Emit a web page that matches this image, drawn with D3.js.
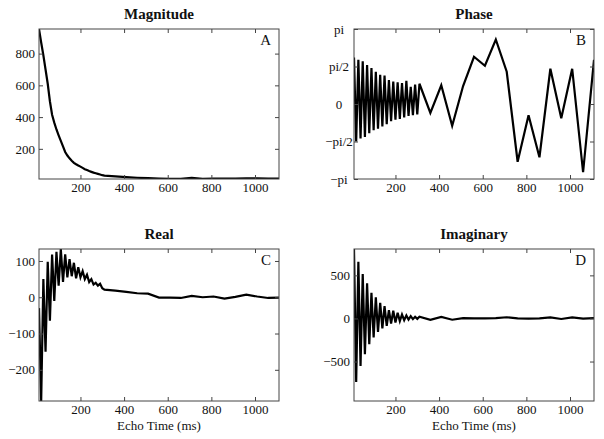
<!DOCTYPE html>
<html>
<meta charset='utf-8'>
<head>
<script src='https://d3js.org/d3.v7.min.js'></script>
<style>
body { margin: 0; background: #fff; }
text { font-family: 'Liberation Serif', 'DejaVu Serif', serif; fill: #111; }
.tick line { stroke: #444; }
.domain { display: none; }
</style>
</head>
<body>
<div id='chart'></div>
<script>
// echo times (ms): dense 10 ms sampling, then 50 ms
var echoTimes = [10,20,30,40,50,60,70,80,90,100,110,120,130,140,150,160,170,180,190,200,
    210,220,230,240,250,260,270,280,290,300,310,
    360,410,460,510,560,610,660,710,760,810,860,910,960,1010,1060,1110]

var magnitude = [955,870,790,700,610,500,415,365,322,285,250,215,180,158,140,125,112,103,95,88,
    80,72,66,60,55,50,46,42,38,34,31,
    27,22,18,15,13,11,11,17,11,12,12,13,14,14,12,12]

// phase in units of pi
var phase = [0.62,-0.50,0.59,-0.46,0.57,-0.44,0.52,-0.39,0.48,-0.35,0.43,-0.33,0.39,-0.30,0.38,-0.27,
    0.32,-0.23,0.30,-0.21,0.29,-0.20,0.28,-0.18,0.31,-0.16,0.23,-0.15,0.26,-0.14,0.27,
    -0.12,0.25,-0.29,0.24,0.63,0.51,0.86,0.43,-0.77,-0.15,-0.71,0.47,-0.19,0.47,-0.91,0.59]

var realPart = [-30,-286,50,-150,98,-65,118,-10,125,32,133,42,118,55,105,58,95,52,83,55,
    72,50,62,42,50,35,40,32,37,25,21,
    18,15,11,10,-1,-1,-2,4,0,2,-4,1,7,2,-2,-1]

var imagPart = [806,-737,658,-551,515,-415,407,-299,298,-221,244,-155,182,-116,143,-86,
    97,-58,89,-47,66,-31,46,-20,35,-12,27,-8,19,-5,20,
    -15,18,-15,4,2,0,4,14,2,-3,2,12,-6,12,-2,4]

var titles = ['Magnitude', 'Phase', 'Real', 'Imaginary']
var letters = ['A', 'B', 'C', 'D']
var yDomains = [[10, 955], [-1, 1], [-286, 133], [-958, 806]]
var yTicks = [[200, 400, 600, 800], [-1, -0.5, 0, 0.5, 1], [-200, -100, 0, 100], [-500, 0, 500]]
var phaseLabels = ['\u2212pi', '\u2212pi/2', '0', 'pi/2', 'pi']
var xTicks = [200, 400, 600, 800, 1000]
var xDomain = [10, 1110]
var xLabel = 'Echo Time (ms)'

var series = [magnitude, phase, realPart, imagPart]

var W = 604, H = 439
var lefts = [39, 354], tops = [29, 249], pw = 240, heights = [150, 152]

var svg = d3.select('#chart').append('svg')
    .attr('width', W).attr('height', H)

series.forEach(function(vals, i) {
    var col = i % 2, row = Math.floor(i / 2)
    var h = heights[row]
    var g = svg.append('g')
        .attr('transform', 'translate(' + lefts[col] + ',' + tops[row] + ')')

    var x = d3.scaleLinear().domain(xDomain).range([0, pw])
    var y = d3.scaleLinear().domain(yDomains[i]).range([h, 0])

    g.append('clipPath').attr('id', 'clip' + i)
        .append('rect').attr('width', pw).attr('height', h)

    var pts = echoTimes.map(function(t, k) { return [t, vals[k]] })
    g.append('path')
        .datum(pts)
        .attr('clip-path', 'url(#clip' + i + ')')
        .attr('d', d3.line().x(function(d) { return x(d[0]) }).y(function(d) { return y(d[1]) }))
        .style('fill', 'none')
        .style('stroke', '#000')
        .style('stroke-width', 2.2)
        .style('stroke-linejoin', 'miter')

    // inward ticks on all four sides, MATLAB style
    var fmt = i == 1 ? function(d, k) { return phaseLabels[k] } : d3.format('d')
    var yl = g.append('g').attr('class', 'yaxis')
        .call(d3.axisLeft(y).tickValues(yTicks[i]).tickSizeInner(-4).tickSizeOuter(0).tickPadding(4).tickFormat(fmt))
    yl.selectAll('text').style('font-size', '13px')
    if (i == 1) yl.selectAll('text').attr('text-anchor', 'middle').attr('x', -15)
    g.append('g').attr('transform', 'translate(' + pw + ',0)')
        .call(d3.axisRight(y).tickValues(yTicks[i]).tickSizeInner(-4).tickSizeOuter(0).tickFormat(''))
    var xb = g.append('g').attr('transform', 'translate(0,' + h + ')')
        .call(d3.axisBottom(x).tickValues(xTicks).tickSizeInner(-4).tickSizeOuter(0).tickFormat(d3.format('d')))
    xb.selectAll('text').style('font-size', '13px').attr('y', 4)
    g.append('g')
        .call(d3.axisTop(x).tickValues(xTicks).tickSizeInner(-4).tickSizeOuter(0).tickFormat(''))

    g.append('rect')
        .attr('width', pw).attr('height', h)
        .style('fill', 'none').style('stroke', '#444').style('stroke-width', 1)

    g.append('text')
        .attr('x', pw / 2).attr('y', -10)
        .attr('text-anchor', 'middle')
        .style('font-size', '15px').style('font-weight', 'bold')
        .text(titles[i])

    g.append('text')
        .attr('x', pw - 8).attr('y', 15.5)
        .attr('text-anchor', 'end')
        .style('font-size', '15px')
        .text(letters[i])

    if (row == 1) {
        g.append('text')
            .attr('x', pw / 2).attr('y', h + 28.5)
            .attr('text-anchor', 'middle')
            .style('font-size', '13px')
            .text(xLabel)
    }
})
</script>
</body>
</html>
